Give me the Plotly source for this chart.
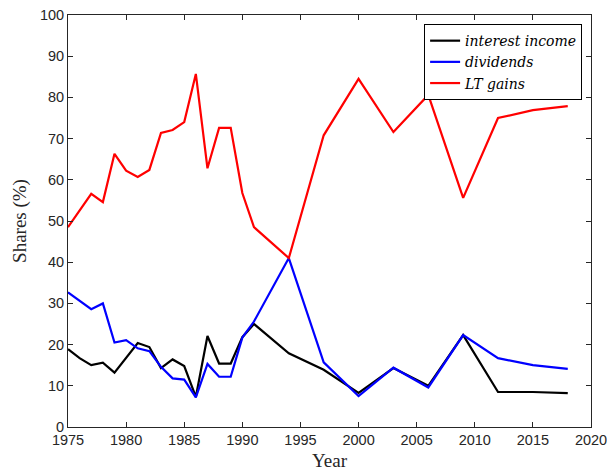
import plotly.graph_objects as go

# Shares of capital income components over time (%)
years = [1975, 1976, 1977, 1978, 1979, 1980, 1981, 1982, 1983, 1984, 1985,
         1986, 1987, 1988, 1989, 1990, 1991, 1994, 1997, 2000, 2003, 2006,
         2009, 2012, 2015, 2018]

interest_income = [18.9, 16.7, 15.0, 15.6, 13.2, 16.8, 20.4, 19.4, 14.3, 16.4,
                   14.8, 7.3, 22.1, 15.4, 15.4, 21.8, 25.0, 17.9, 13.9, 8.3,
                   14.3, 10.0, 22.3, 8.5, 8.5, 8.2]

dividends = [32.7, 30.6, 28.6, 30.0, 20.5, 21.1, 19.1, 18.4, 14.6, 11.8,
             11.5, 7.2, 15.3, 12.2, 12.2, 21.7, 25.6, 41.0, 15.7, 7.5,
             14.4, 9.6, 22.3, 16.7, 15.0, 14.1]

lt_gains = [48.5, 52.6, 56.6, 54.6, 66.3, 62.2, 60.7, 62.4, 71.4, 72.1,
            74.0, 85.7, 62.8, 72.6, 72.6, 56.8, 48.5, 41.0, 70.8, 84.5,
            71.6, 80.6, 55.6, 75.0, 76.9, 77.9]

x_ticks = [1975, 1980, 1985, 1990, 1995, 2000, 2005, 2010, 2015, 2020]
y_ticks = [0, 10, 20, 30, 40, 50, 60, 70, 80, 90, 100]

series = [
    ("interest income", interest_income, "#000000"),
    ("dividends", dividends, "#0000ff"),
    ("LT gains", lt_gains, "#ff0000"),
]

fig = go.Figure()
for name, values, color in series:
    fig.add_trace(go.Scatter(
        x=years, y=values, mode="lines", name=f"<i>{name}</i>",
        line=dict(color=color, width=2.2),
    ))

axis_color = "#262626"
common_axis = dict(
    showline=True, linecolor=axis_color, linewidth=1, mirror="ticks",
    ticks="inside", ticklen=5, tickcolor=axis_color, tickwidth=1,
    showgrid=False, zeroline=False, ticklabeloverflow="allow",
    automargin=False,
    tickfont=dict(family="Liberation Sans, Arial, sans-serif", size=14.5, color=axis_color),
)

fig.update_layout(
    width=607, height=471,
    margin=dict(l=68, r=16, t=15, b=44),
    plot_bgcolor="white", paper_bgcolor="white",
    xaxis=dict(range=[1975, 2020], tickvals=x_ticks,
               title=dict(text="Year", standoff=6,
                          font=dict(family="Liberation Serif, serif", size=19, color=axis_color)),
               **common_axis),
    yaxis=dict(range=[0, 100], tickvals=y_ticks,
               title=dict(text="Shares (%)", standoff=8,
                          font=dict(family="Liberation Serif, serif", size=19, color=axis_color)),
               **common_axis),
    legend=dict(
        x=0.983, y=0.978, xanchor="right", yanchor="top",
        bgcolor="white", bordercolor="#000000", borderwidth=1,
        font=dict(family="DejaVu Serif, serif", size=14, color="#000000"),
        tracegroupgap=0, itemwidth=30,
    ),
)

fig.write_html("out.html")
